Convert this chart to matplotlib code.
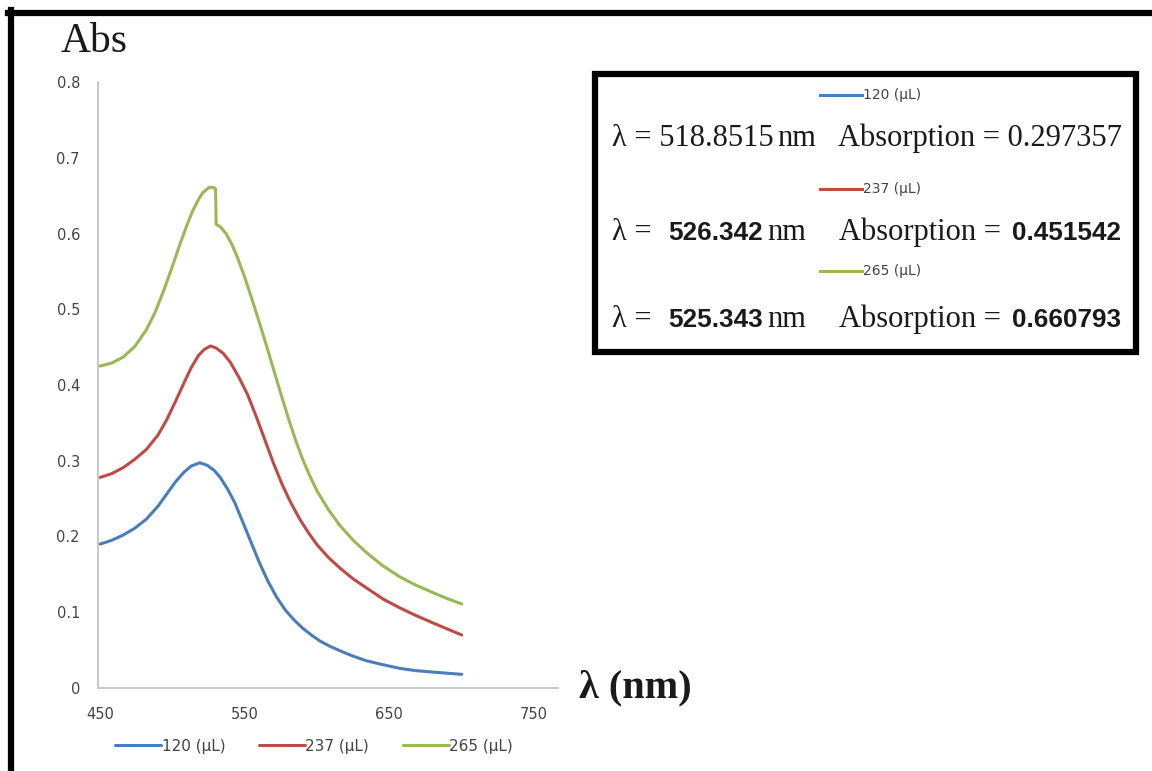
import matplotlib
matplotlib.use("Agg")
import matplotlib.pyplot as plt
from matplotlib.lines import Line2D
from matplotlib.patches import Rectangle

# ---- data -------------------------------------------------------------
series_labels = ["120 (µL)", "237 (µL)", "265 (µL)"]
series_colors = ["#4a7ebb", "#be4b48", "#98b954"]

wl_120 = [450, 458, 466, 474, 482, 490, 496, 502, 508, 513, 518.8515, 524, 529,
          533, 538, 543, 548, 554, 560, 566, 572, 578, 584, 590, 596, 602, 609,
          616, 625, 634, 645, 657, 668, 680, 690, 700]
abs_120 = [0.190, 0.195, 0.202, 0.211, 0.223, 0.240, 0.256, 0.272, 0.285, 0.293,
           0.297357, 0.294, 0.287, 0.278, 0.263, 0.245, 0.222, 0.194, 0.166,
           0.141, 0.120, 0.103, 0.090, 0.079, 0.070, 0.062, 0.055, 0.049, 0.042,
           0.036, 0.031, 0.026, 0.023, 0.021, 0.0195, 0.018]

wl_237 = [450, 458, 466, 474, 482, 490, 496, 502, 508, 513, 518, 522, 526.342,
          530, 535, 540, 546, 552, 558, 564, 570, 576, 582, 588, 594, 600, 608,
          616, 625, 635, 646, 657, 668, 680, 690, 700]
abs_237 = [0.278, 0.283, 0.291, 0.302, 0.315, 0.334, 0.354, 0.378, 0.403, 0.423,
           0.439, 0.447, 0.451542, 0.449, 0.442, 0.430, 0.410, 0.387, 0.358,
           0.327, 0.296, 0.268, 0.244, 0.223, 0.205, 0.189, 0.172, 0.158, 0.144,
           0.131, 0.117, 0.106, 0.096, 0.086, 0.078, 0.070]

wl_265 = [450, 458, 466, 474, 482, 488, 494, 500, 505, 510, 514, 518, 521,
          525.343, 528, 529.8, 530.2, 533, 537, 541, 545, 550, 555, 560, 565,
          570, 575, 580, 585, 590, 595, 600, 608, 616, 625, 634, 645, 657, 668,
          680, 690, 700]
abs_265 = [0.425, 0.429, 0.437, 0.451, 0.473, 0.496, 0.525, 0.557, 0.585, 0.611,
           0.630, 0.645, 0.654, 0.660793, 0.661, 0.659, 0.612, 0.609, 0.600,
           0.586, 0.568, 0.542, 0.513, 0.483, 0.452, 0.420, 0.388, 0.357, 0.328,
           0.302, 0.280, 0.260, 0.235, 0.214, 0.195, 0.179, 0.162, 0.147, 0.136,
           0.126, 0.118, 0.111]

peak_wl = ["518.8515", "526.342", "525.343"]
peak_abs = ["0.297357", "0.451542", "0.660793"]

x_ticks = [450, 550, 650, 750]
y_ticks = [0, 0.1, 0.2, 0.3, 0.4, 0.5, 0.6, 0.7, 0.8]
y_tick_labels = ["0", "0.1", "0.2", "0.3", "0.4", "0.5", "0.6", "0.7", "0.8"]

# ---- figure -----------------------------------------------------------
W, H = 1152, 771
fig = plt.figure(figsize=(W / 100, H / 100), dpi=100)
fig.patch.set_facecolor("white")


def fx(px):
    return px / W


def fy(py):
    return 1 - py / H


SERIF = ["Liberation Serif", "DejaVu Serif"]
SANS = ["DejaVu Sans"]
ARIAL = ["Liberation Sans", "DejaVu Sans"]
GRAY = "#444444"
INK = "#1a1a1a"

ax = fig.add_axes([fx(98), fy(688), fx(558) - fx(98), fy(82) - fy(688)])
lines = []
for wl, ab, col in zip([wl_120, wl_237, wl_265], [abs_120, abs_237, abs_265],
                       series_colors):
    ln, = ax.plot(wl, ab, color=col, lw=2.2, solid_capstyle="round",
                  solid_joinstyle="round")
    lines.append(ln)

ax.set_xlim(448.5, 766.6)
ax.set_ylim(0, 0.8)
ax.set_xticks(x_ticks)
ax.set_xticklabels([str(t) for t in x_ticks])
ax.set_yticks(y_ticks)
ax.set_yticklabels(y_tick_labels)
ax.tick_params(axis="both", length=0, labelsize=10.5, labelcolor=GRAY)
ax.tick_params(axis="y", pad=13)
ax.tick_params(axis="x", pad=14)
for lab in ax.get_xticklabels() + ax.get_yticklabels():
    lab.set_family(SANS)
for side in ("top", "right"):
    ax.spines[side].set_visible(False)
for side in ("left", "bottom"):
    ax.spines[side].set_color("#c0c0c0")
    ax.spines[side].set_linewidth(1.2)

# axis captions
fig.text(fx(61), fy(52), "Abs", family=SERIF, fontsize=30, color=INK,
         ha="left", va="baseline")
fig.text(fx(579), fy(697), "λ (nm)", family=SERIF, fontsize=29,
         fontweight="bold", color=INK, ha="left", va="baseline")

# bottom legend
fig.legend(lines, series_labels, loc="center",
           bbox_to_anchor=(fx(314), fy(746)), ncol=3, frameon=False,
           prop={"family": SANS, "size": 11}, labelcolor=GRAY,
           handlelength=3.0, handletextpad=0.05, columnspacing=2.2)

# outer frame (top and left edges)
fig.add_artist(Line2D([fx(8), fx(1152)], [fy(13), fy(13)], color="black",
                      lw=4.5, transform=fig.transFigure))
fig.add_artist(Line2D([fx(11), fx(11)], [fy(10), fy(771)], color="black",
                      lw=4.5, transform=fig.transFigure))

# peak information box
fig.add_artist(Rectangle((fx(594.5), fy(352.5)), fx(1135.5) - fx(594.5),
                         fy(73.5) - fy(352.5), transform=fig.transFigure,
                         facecolor="white", edgecolor="black", lw=4.5))

sample_y = [95, 189, 271]
row_y = [146, 240, 327]
for i in range(3):
    fig.add_artist(Line2D([fx(820), fx(862)], [fy(sample_y[i])] * 2,
                          color=series_colors[i], lw=2.2,
                          transform=fig.transFigure))
    fig.text(fx(863), fy(sample_y[i]), series_labels[i], family=SANS,
             fontsize=10, color=GRAY, ha="left", va="center")

SZ = 22
NUM = 18.8
# first row entirely in serif
fig.text(fx(612), fy(row_y[0]), "λ = " + peak_wl[0], family=SERIF, fontsize=SZ,
         ha="left", va="baseline", color=INK)
fig.text(fx(777), fy(row_y[0]), "nm", family=SERIF, fontsize=SZ,
         ha="left", va="baseline", color=INK)
fig.text(fx(838), fy(row_y[0]), "Absorption = " + peak_abs[0], family=SERIF,
         fontsize=SZ, ha="left", va="baseline", color=INK)

# other rows with bold sans numbers
for i in (1, 2):
    yy = fy(row_y[i])
    fig.text(fx(612), yy, "λ =", family=SERIF, fontsize=SZ, ha="left",
             va="baseline", color=INK)
    fig.text(fx(668), yy, peak_wl[i], family=ARIAL, fontsize=NUM,
             fontweight="bold", ha="left", va="baseline", color=INK)
    fig.text(fx(767), yy, "nm", family=SERIF, fontsize=SZ, ha="left",
             va="baseline", color=INK)
    fig.text(fx(839), yy, "Absorption =", family=SERIF, fontsize=SZ,
             ha="left", va="baseline", color=INK)
    fig.text(fx(1012), yy, peak_abs[i], family=ARIAL, fontsize=NUM,
             fontweight="bold", ha="left", va="baseline", color=INK)

fig.savefig("out.png", dpi=100, facecolor="white")
